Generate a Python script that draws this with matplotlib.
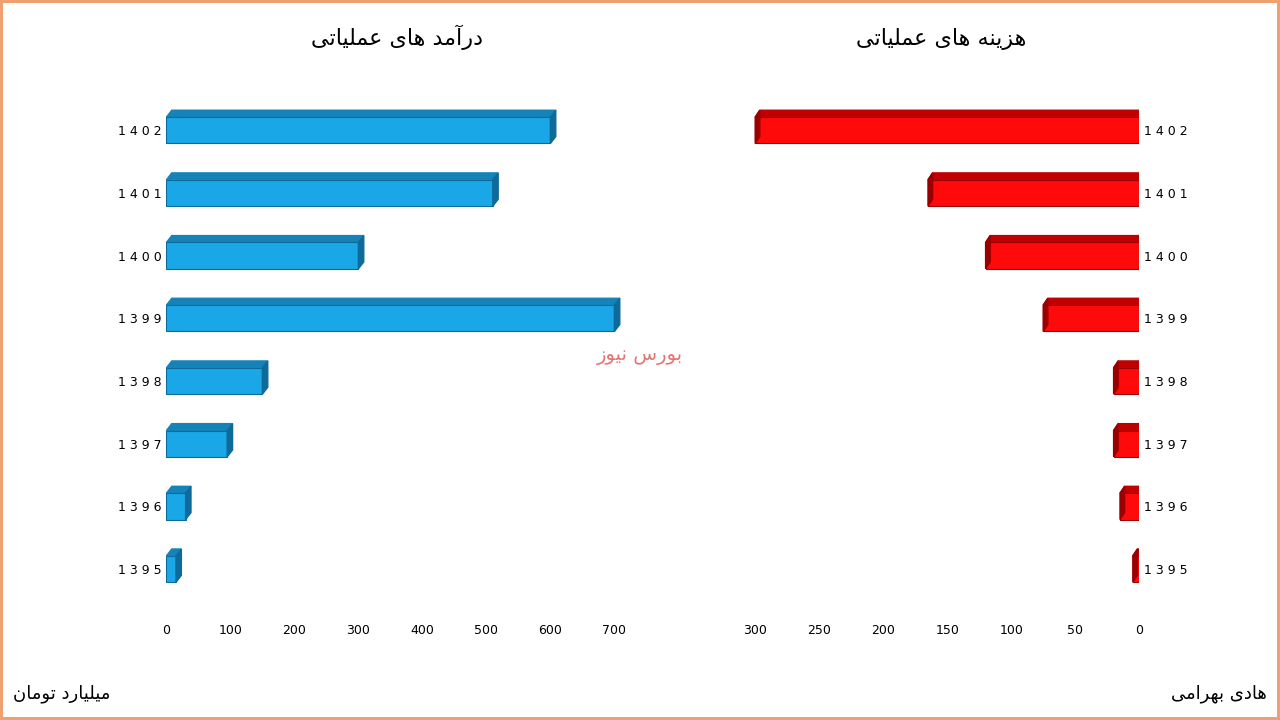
import matplotlib.pyplot as plt
from matplotlib.patches import Polygon
import numpy as np

years = ['1395', '1396', '1397', '1398', '1399', '1400', '1401', '1402']
income = [15, 30, 95, 150, 700, 300, 510, 600]
costs = [5, 15, 20, 20, 75, 120, 165, 300]

# simple persian shaping (matplotlib has no arabic shaping)
FORMS = {
    'ا': ('\uFE8D', '\uFE8E', None, None), 'آ': ('\uFE81', '\uFE82', None, None),
    'ب': ('\uFE8F', '\uFE90', '\uFE91', '\uFE92'), 'ت': ('\uFE95', '\uFE96', '\uFE97', '\uFE98'),
    'د': ('\uFEA9', '\uFEAA', None, None), 'ر': ('\uFEAD', '\uFEAE', None, None),
    'ز': ('\uFEAF', '\uFEB0', None, None), 'ع': ('\uFEC9', '\uFECA', '\uFECB', '\uFECC'),
    'ل': ('\uFEDD', '\uFEDE', '\uFEDF', '\uFEE0'), 'م': ('\uFEE1', '\uFEE2', '\uFEE3', '\uFEE4'),
    'ن': ('\uFEE5', '\uFEE6', '\uFEE7', '\uFEE8'), 'ه': ('\uFEE9', '\uFEEA', '\uFEEB', '\uFEEC'),
    'و': ('\uFEED', '\uFEEE', None, None), 'ی': ('\uFBFC', '\uFBFD', '\uFBFE', '\uFBFF'),
    'س': ('\uFEB1', '\uFEB2', '\uFEB3', '\uFEB4'),
}

def fa(s):
    out = []
    for i, c in enumerate(s):
        if c not in FORMS:
            out.append(c)
            continue
        f = FORMS[c]
        p = s[i - 1] if i > 0 else ''
        n = s[i + 1] if i + 1 < len(s) else ''
        jp = p in FORMS and FORMS[p][2] is not None
        jn = n in FORMS and f[2] is not None
        if jp and jn:
            out.append(f[3])
        elif jp:
            out.append(f[1])
        elif jn:
            out.append(f[2])
        else:
            out.append(f[0])
    return ''.join(out[::-1])

plt.rcParams['font.family'] = ['DejaVu Sans']
fig = plt.figure(figsize=(12.8, 7.2), dpi=100)
fig.patch.set_edgecolor('#f0a070')
fig.patch.set_linewidth(4)

def bars3d(ax, vals, front, top, side, xmax, flip):
    y = np.arange(len(vals))
    ax.barh(y, vals, height=0.42, color=front, edgecolor=side, linewidth=0.8, zorder=3)
    dx = xmax * 0.012 * (-1 if flip else 1)
    for yi, v in zip(y, vals):
        ax.add_patch(Polygon([(0, yi + 0.21), (v, yi + 0.21), (v + dx, yi + 0.32), (dx, yi + 0.32)],
                             closed=True, color=top, zorder=2))
        ax.add_patch(Polygon([(v, yi - 0.21), (v, yi + 0.21), (v + dx, yi + 0.32), (v + dx, yi - 0.1)],
                             closed=True, color=side, zorder=4))
    ax.set_yticks(y)
    ax.set_yticklabels([' '.join(t) for t in years], fontsize=9)
    ax.set_ylim(-0.8, len(vals) - 0.3)
    for s in ax.spines.values():
        s.set_visible(False)
    ax.tick_params(length=0, labelsize=9)

ax1 = fig.add_axes([0.13, 0.14, 0.36, 0.74])
bars3d(ax1, income, '#1aa7e8', '#1583b8', '#0e6a99', 700, False)
ax1.set_xlim(0, 720)
ax1.set_xticks(range(0, 701, 100))
ax1.set_title(fa('درآمد های عملیاتی'), fontsize=16, pad=30)

ax2 = fig.add_axes([0.58, 0.14, 0.31, 0.74])
bars3d(ax2, costs, '#ff0a0a', '#c00000', '#9a0000', 300, True)
ax2.set_xlim(310, 0)
ax2.set_xticks(range(0, 301, 50))
ax2.yaxis.tick_right()
ax2.set_title(fa('هزینه های عملیاتی'), fontsize=16, pad=30)

fig.text(0.01, 0.03, fa('میلیارد تومان'), fontsize=13)
fig.text(0.99, 0.03, fa('هادی بهرامی'), fontsize=13, ha='right')
fig.text(0.5, 0.5, fa('بورس نیوز'), fontsize=14, color='#e05050', alpha=0.8, ha='center')

fig.savefig('out.png', dpi=100, edgecolor=fig.get_edgecolor())
